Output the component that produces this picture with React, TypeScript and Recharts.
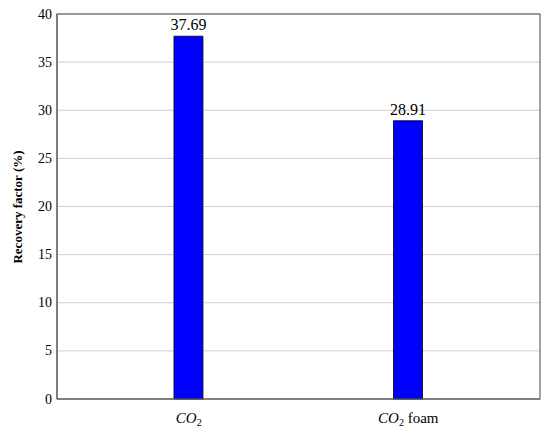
import React from 'react';
import * as Recharts from 'recharts';
import { BarChart, Bar, XAxis, YAxis, CartesianGrid, LabelList } from 'recharts';

const categories = ['CO2', 'CO2 foam'];
const recoveryValues = [37.69, 28.91];
const yTicks = [0, 5, 10, 15, 20, 25, 30, 35, 40];
const xDomain = [-0.6, 1.6];
const yDomain = [0, 40];

const data = categories.map((c, i) => ({ pos: i, name: c, value: recoveryValues[i] }));

const FONT = '"Liberation Serif", "DejaVu Serif", serif';
const FRAME = '#666';

const usePlot: any = (Recharts as any).usePlotArea || (() => null);

const Frame = () => {
  const p = usePlot();
  if (!p) return null;
  return (
    <rect
      x={p.x}
      y={p.y}
      width={p.width}
      height={p.height}
      fill="none"
      stroke={FRAME}
      strokeWidth={1.2}
    />
  );
};

const XTick = (props: any) => {
  const { x, y, payload } = props;
  const label: string = categories[payload.value] ?? '';
  const rest = label.replace(/^CO2/, '');
  return (
    <text x={x} y={y + 24} textAnchor="middle" style={{ fontFamily: FONT }} fontSize={15} fill="#000">
      <tspan fontStyle="italic">CO</tspan>
      <tspan fontSize={10} dy={3}>2</tspan>
      {rest ? <tspan dy={-3}>{rest}</tspan> : null}
    </text>
  );
};

const YTick = (props: any) => {
  const { x, y, payload } = props;
  return (
    <text x={x} y={y} textAnchor="end" dominantBaseline="central" style={{ fontFamily: FONT }} fontSize={14} fill="#000">
      {payload.value}
    </text>
  );
};

const BarLabel = (props: any) => {
  const { x, y, width, value } = props;
  return (
    <text x={x + width / 2} y={y - 6} textAnchor="middle" style={{ fontFamily: FONT }} fontSize={16} fill="#000">
      {Number(value).toFixed(2)}
    </text>
  );
};

const YLabel = () => (
  <text
    x={17}
    y={207}
    transform="rotate(-90 17 207)"
    textAnchor="middle"
    dominantBaseline="central"
    style={{ fontFamily: FONT }}
    fontWeight="bold"
    fontSize={13}
    fill="#000"
  >
    Recovery factor (%)
  </text>
);

export default function App() {
  return (
    <div style={{ position: 'absolute', left: 0, top: 0, background: '#fff' }}>
      <BarChart width={550} height={432} data={data} margin={{ top: 14, right: 10, bottom: 3, left: 0 }}>
        <CartesianGrid vertical={false} stroke="#cfcfcf" strokeWidth={1} />
        <XAxis
          dataKey="pos"
          type="number"
          domain={xDomain}
          ticks={[0, 1]}
          allowDataOverflow
          height={30}
          tick={<XTick />}
          tickLine={false}
          tickSize={0}
          tickMargin={0}
          axisLine={{ stroke: FRAME, strokeWidth: 1.2 }}
        />
        <YAxis
          width={57}
          domain={yDomain}
          ticks={yTicks}
          interval={0}
          tickSize={0}
          tickMargin={5}
          tickLine={false}
          axisLine={{ stroke: FRAME, strokeWidth: 1.2 }}
          tick={<YTick />}
          label={<YLabel />}
        />
        <Bar
          dataKey="value"
          fill="#0000ff"
          stroke="#000"
          strokeWidth={0.8}
          barSize={29}
          isAnimationActive={false}
        >
          <LabelList dataKey="value" content={<BarLabel />} />
        </Bar>
        <Frame />
      </BarChart>
    </div>
  );
}
